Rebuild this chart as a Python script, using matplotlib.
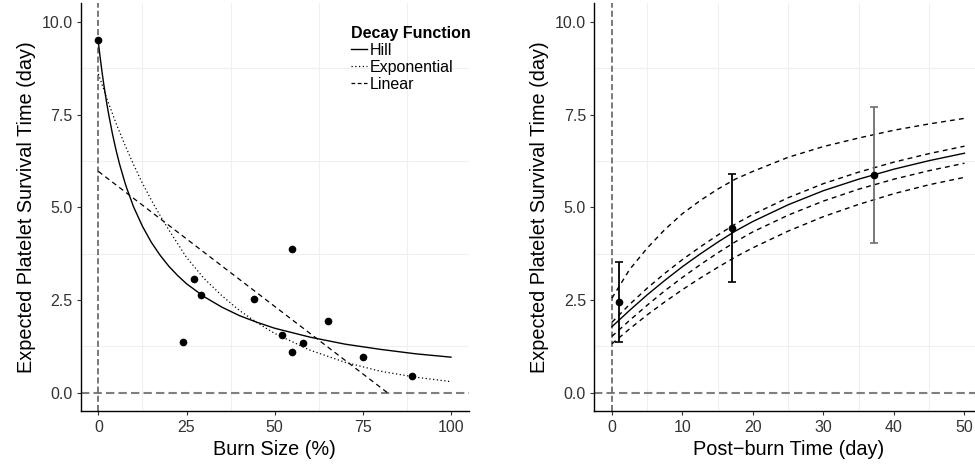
import numpy as np
import matplotlib
matplotlib.use("Agg")
import matplotlib.pyplot as plt
from matplotlib.lines import Line2D

plt.rcParams['font.family'] = ['Liberation Sans', 'DejaVu Sans']

#-----------------------------------------------------------------------
# left panel: observed points and the three fitted decay curves
burn_size = [0, 24, 27, 29, 44, 52, 55, 55, 58, 65, 75, 89]
burn_survival = [9.5, 1.38, 3.06, 2.64, 2.54, 1.56, 3.88, 1.11, 1.35, 1.94, 0.97, 0.46]

hill_x = [0, 0.5, 1, 1.5, 2, 2.5, 3, 4, 5, 6, 7.5, 8, 10, 12.5, 15, 17.5, 20, 22.5,
          25, 30, 35, 40, 45, 50, 60, 70, 80, 90, 100]
hill_y = [9.45, 9.05, 8.68, 8.34, 8.03, 7.74, 7.47, 6.98, 6.55, 6.17, 5.68, 5.53,
          5.01, 4.49, 4.06, 3.71, 3.41, 3.16, 2.94, 2.59, 2.31, 2.08, 1.90, 1.74,
          1.50, 1.31, 1.17, 1.05, 0.96]

expo_x = [0, 2.5, 5, 7.5, 10, 12.5, 15, 17.5, 20, 25, 30, 35, 40, 45, 50, 60, 70, 80, 90, 100]
expo_y = [8.60, 7.91, 7.27, 6.69, 6.15, 5.65, 5.20, 4.78, 4.39, 3.65, 3.08, 2.62,
          2.22, 1.89, 1.60, 1.15, 0.82, 0.58, 0.42, 0.30]

lin_x = [0, 82]
lin_y = [5.97, 0.0]

burn_ticks = [0, 25, 50, 75, 100]
surv_ticks = [0, 2.5, 5, 7.5, 10]
decay_labels = ['Hill', 'Exponential', 'Linear']

#-----------------------------------------------------------------------
# right panel: survival over post-burn time
day_obs = [1, 17.1, 37.2]
surv_obs = [2.45, 4.45, 5.88]
surv_lo = [1.37, 2.99, 4.05]
surv_hi = [3.52, 5.91, 7.70]
bar_colors = ['black', 'black', '#6e6e6e']

day_grid = [0, 2.5, 5, 7.5, 10, 12.5, 15, 17.5, 20, 25, 30, 35, 40, 45, 50]
fit_mid = [1.78, 2.22, 2.64, 3.03, 3.40, 3.74, 4.06, 4.36, 4.62, 5.07, 5.45, 5.76, 6.03, 6.26, 6.46]
band_top = [2.55, 3.32, 3.90, 4.40, 4.83, 5.18, 5.49, 5.76, 5.97, 6.35, 6.64, 6.87, 7.08, 7.25, 7.40]
band_up = [1.90, 2.38, 2.82, 3.22, 3.59, 3.93, 4.25, 4.55, 4.81, 5.26, 5.64, 5.95, 6.22, 6.45, 6.65]
band_low = [1.52, 1.95, 2.36, 2.75, 3.11, 3.45, 3.77, 4.07, 4.34, 4.79, 5.17, 5.49, 5.76, 5.99, 6.19]
band_bot = [1.32, 1.72, 2.10, 2.45, 2.78, 3.09, 3.38, 3.66, 3.91, 4.36, 4.75, 5.08, 5.37, 5.61, 5.81]

day_ticks = [0, 10, 20, 30, 40, 50]

#-----------------------------------------------------------------------
def style_axes(ax, xticks, xlim):
    ax.set_xlim(xlim)
    ax.set_ylim(-0.5, 10.5)
    ax.set_xticks(xticks)
    ax.set_yticks(surv_ticks)
    ax.set_yticklabels(['%.1f' % v for v in surv_ticks])
    # only the faint minor grid is visible
    xt = np.array(xticks, dtype=float)
    st = np.array(surv_ticks, dtype=float)
    for v in (xt[:-1] + xt[1:]) / 2:
        ax.axvline(v, color='#efefef', lw=0.8, zorder=0)
    for v in list((st[:-1] + st[1:]) / 2) + [st[-1] + 1.25]:
        ax.axhline(v, color='#efefef', lw=0.8, zorder=0)
    for s in ['top', 'right']:
        ax.spines[s].set_visible(False)
    for s in ['left', 'bottom']:
        ax.spines[s].set_color('black')
        ax.spines[s].set_linewidth(1.0)
    ax.tick_params(axis='both', length=3, width=0.8, color='#333333',
                   labelsize=11.5, labelcolor='#333333', pad=3)
    ax.axhline(0, color='#7f7f7f', lw=1.5, dashes=(4, 2), zorder=1)
    ax.axvline(0, color='#555555', lw=1.1, dashes=(4, 2), zorder=1)
    ax.set_ylabel('Expected Platelet Survival Time (day)', fontsize=14.3, labelpad=4)


fig = plt.figure(figsize=(9.75, 4.66), dpi=100)

#左图
ax1 = fig.add_axes([0.0828, 0.1174, 0.3978, 0.8753])
style_axes(ax1, burn_ticks, (-5, 105))
ax1.plot(hill_x, hill_y, color='black', lw=1.0, zorder=3)
ax1.plot(expo_x, expo_y, color='black', lw=0.9, linestyle=(0, (1, 2)), zorder=3)
ax1.plot(lin_x, lin_y, color='black', lw=0.9, linestyle=(0, (4, 3)), zorder=3)
ax1.plot(burn_size, burn_survival, 'o', color='black', ms=4.5, zorder=4)
ax1.set_xlabel('Burn Size (%)', fontsize=14.3, labelpad=4)

handles = [Line2D([], [], color='black', lw=1.0),
           Line2D([], [], color='black', lw=0.9, linestyle=(0, (1, 2))),
           Line2D([], [], color='black', lw=0.9, linestyle=(0, (3, 2)))]
leg = ax1.legend(handles, decay_labels, title='Decay Function', loc='upper left',
                 bbox_to_anchor=(0.697, 0.945), frameon=False, fontsize=11.5,
                 handlelength=1.0, handletextpad=0.2, labelspacing=0.12,
                 borderpad=0, borderaxespad=0, alignment='left',
                 title_fontproperties={'weight': 'bold', 'size': 11.5})

#右图
ax2 = fig.add_axes([0.6095, 0.1174, 0.3978, 0.8753])
style_axes(ax2, day_ticks, (-2.5, 52.5))
for band in [band_top, band_up, band_low, band_bot]:
    ax2.plot(day_grid, band, color='black', lw=1.0, linestyle=(0, (3.5, 3)), zorder=3)
ax2.plot(day_grid, fit_mid, color='black', lw=1.0, zorder=3)
for i in range(len(day_obs)):
    ax2.errorbar(day_obs[i], surv_obs[i],
                 yerr=[[surv_obs[i] - surv_lo[i]], [surv_hi[i] - surv_obs[i]]],
                 fmt='none', ecolor=bar_colors[i], elinewidth=1.3, capsize=2.6,
                 capthick=1.2, zorder=4)
ax2.plot(day_obs, surv_obs, 'o', color='black', ms=4.5, zorder=5)
ax2.set_xlabel('Post\u2212burn Time (day)', fontsize=14.3, labelpad=4)

fig.savefig('out.png', dpi=100)
